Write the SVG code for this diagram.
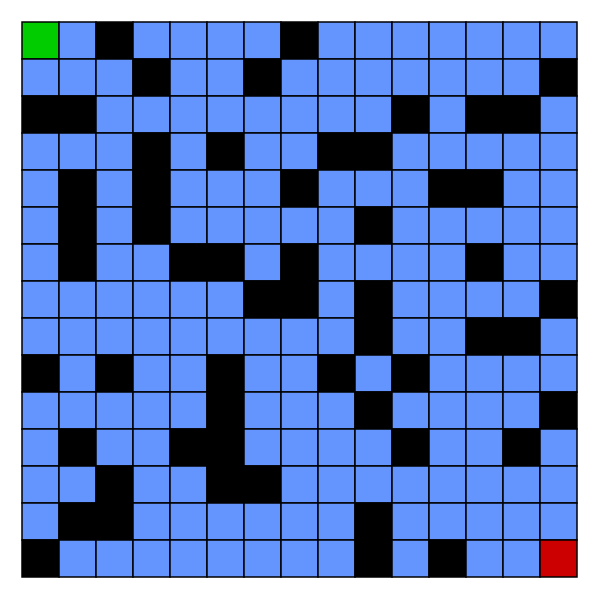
<svg xmlns="http://www.w3.org/2000/svg" width="600" height="600" viewBox="0 0 600 600">
<style>
rect{stroke:#000;stroke-width:1.5}
.o{fill:#6495FF}
.w{fill:#000}
.s{fill:#00CC00}
.e{fill:#CC0000}
</style>
<rect x="0" y="0" width="600" height="600" fill="#fff" style="stroke:none"/>
<g id="row0">
<rect class="s" x="22" y="22" width="37" height="37"/><rect class="o" x="59" y="22" width="37" height="37"/><rect class="w" x="96" y="22" width="37" height="37"/><rect class="o" x="133" y="22" width="37" height="37"/><rect class="o" x="170" y="22" width="37" height="37"/><rect class="o" x="207" y="22" width="37" height="37"/><rect class="o" x="244" y="22" width="37" height="37"/><rect class="w" x="281" y="22" width="37" height="37"/><rect class="o" x="318" y="22" width="37" height="37"/><rect class="o" x="355" y="22" width="37" height="37"/><rect class="o" x="392" y="22" width="37" height="37"/><rect class="o" x="429" y="22" width="37" height="37"/><rect class="o" x="466" y="22" width="37" height="37"/><rect class="o" x="503" y="22" width="37" height="37"/><rect class="o" x="540" y="22" width="37" height="37"/>
</g>
<g id="row1">
<rect class="o" x="22" y="59" width="37" height="37"/><rect class="o" x="59" y="59" width="37" height="37"/><rect class="o" x="96" y="59" width="37" height="37"/><rect class="w" x="133" y="59" width="37" height="37"/><rect class="o" x="170" y="59" width="37" height="37"/><rect class="o" x="207" y="59" width="37" height="37"/><rect class="w" x="244" y="59" width="37" height="37"/><rect class="o" x="281" y="59" width="37" height="37"/><rect class="o" x="318" y="59" width="37" height="37"/><rect class="o" x="355" y="59" width="37" height="37"/><rect class="o" x="392" y="59" width="37" height="37"/><rect class="o" x="429" y="59" width="37" height="37"/><rect class="o" x="466" y="59" width="37" height="37"/><rect class="o" x="503" y="59" width="37" height="37"/><rect class="w" x="540" y="59" width="37" height="37"/>
</g>
<g id="row2">
<rect class="w" x="22" y="96" width="37" height="37"/><rect class="w" x="59" y="96" width="37" height="37"/><rect class="o" x="96" y="96" width="37" height="37"/><rect class="o" x="133" y="96" width="37" height="37"/><rect class="o" x="170" y="96" width="37" height="37"/><rect class="o" x="207" y="96" width="37" height="37"/><rect class="o" x="244" y="96" width="37" height="37"/><rect class="o" x="281" y="96" width="37" height="37"/><rect class="o" x="318" y="96" width="37" height="37"/><rect class="o" x="355" y="96" width="37" height="37"/><rect class="w" x="392" y="96" width="37" height="37"/><rect class="o" x="429" y="96" width="37" height="37"/><rect class="w" x="466" y="96" width="37" height="37"/><rect class="w" x="503" y="96" width="37" height="37"/><rect class="o" x="540" y="96" width="37" height="37"/>
</g>
<g id="row3">
<rect class="o" x="22" y="133" width="37" height="37"/><rect class="o" x="59" y="133" width="37" height="37"/><rect class="o" x="96" y="133" width="37" height="37"/><rect class="w" x="133" y="133" width="37" height="37"/><rect class="o" x="170" y="133" width="37" height="37"/><rect class="w" x="207" y="133" width="37" height="37"/><rect class="o" x="244" y="133" width="37" height="37"/><rect class="o" x="281" y="133" width="37" height="37"/><rect class="w" x="318" y="133" width="37" height="37"/><rect class="w" x="355" y="133" width="37" height="37"/><rect class="o" x="392" y="133" width="37" height="37"/><rect class="o" x="429" y="133" width="37" height="37"/><rect class="o" x="466" y="133" width="37" height="37"/><rect class="o" x="503" y="133" width="37" height="37"/><rect class="o" x="540" y="133" width="37" height="37"/>
</g>
<g id="row4">
<rect class="o" x="22" y="170" width="37" height="37"/><rect class="w" x="59" y="170" width="37" height="37"/><rect class="o" x="96" y="170" width="37" height="37"/><rect class="w" x="133" y="170" width="37" height="37"/><rect class="o" x="170" y="170" width="37" height="37"/><rect class="o" x="207" y="170" width="37" height="37"/><rect class="o" x="244" y="170" width="37" height="37"/><rect class="w" x="281" y="170" width="37" height="37"/><rect class="o" x="318" y="170" width="37" height="37"/><rect class="o" x="355" y="170" width="37" height="37"/><rect class="o" x="392" y="170" width="37" height="37"/><rect class="w" x="429" y="170" width="37" height="37"/><rect class="w" x="466" y="170" width="37" height="37"/><rect class="o" x="503" y="170" width="37" height="37"/><rect class="o" x="540" y="170" width="37" height="37"/>
</g>
<g id="row5">
<rect class="o" x="22" y="207" width="37" height="37"/><rect class="w" x="59" y="207" width="37" height="37"/><rect class="o" x="96" y="207" width="37" height="37"/><rect class="w" x="133" y="207" width="37" height="37"/><rect class="o" x="170" y="207" width="37" height="37"/><rect class="o" x="207" y="207" width="37" height="37"/><rect class="o" x="244" y="207" width="37" height="37"/><rect class="o" x="281" y="207" width="37" height="37"/><rect class="o" x="318" y="207" width="37" height="37"/><rect class="w" x="355" y="207" width="37" height="37"/><rect class="o" x="392" y="207" width="37" height="37"/><rect class="o" x="429" y="207" width="37" height="37"/><rect class="o" x="466" y="207" width="37" height="37"/><rect class="o" x="503" y="207" width="37" height="37"/><rect class="o" x="540" y="207" width="37" height="37"/>
</g>
<g id="row6">
<rect class="o" x="22" y="244" width="37" height="37"/><rect class="w" x="59" y="244" width="37" height="37"/><rect class="o" x="96" y="244" width="37" height="37"/><rect class="o" x="133" y="244" width="37" height="37"/><rect class="w" x="170" y="244" width="37" height="37"/><rect class="w" x="207" y="244" width="37" height="37"/><rect class="o" x="244" y="244" width="37" height="37"/><rect class="w" x="281" y="244" width="37" height="37"/><rect class="o" x="318" y="244" width="37" height="37"/><rect class="o" x="355" y="244" width="37" height="37"/><rect class="o" x="392" y="244" width="37" height="37"/><rect class="o" x="429" y="244" width="37" height="37"/><rect class="w" x="466" y="244" width="37" height="37"/><rect class="o" x="503" y="244" width="37" height="37"/><rect class="o" x="540" y="244" width="37" height="37"/>
</g>
<g id="row7">
<rect class="o" x="22" y="281" width="37" height="37"/><rect class="o" x="59" y="281" width="37" height="37"/><rect class="o" x="96" y="281" width="37" height="37"/><rect class="o" x="133" y="281" width="37" height="37"/><rect class="o" x="170" y="281" width="37" height="37"/><rect class="o" x="207" y="281" width="37" height="37"/><rect class="w" x="244" y="281" width="37" height="37"/><rect class="w" x="281" y="281" width="37" height="37"/><rect class="o" x="318" y="281" width="37" height="37"/><rect class="w" x="355" y="281" width="37" height="37"/><rect class="o" x="392" y="281" width="37" height="37"/><rect class="o" x="429" y="281" width="37" height="37"/><rect class="o" x="466" y="281" width="37" height="37"/><rect class="o" x="503" y="281" width="37" height="37"/><rect class="w" x="540" y="281" width="37" height="37"/>
</g>
<g id="row8">
<rect class="o" x="22" y="318" width="37" height="37"/><rect class="o" x="59" y="318" width="37" height="37"/><rect class="o" x="96" y="318" width="37" height="37"/><rect class="o" x="133" y="318" width="37" height="37"/><rect class="o" x="170" y="318" width="37" height="37"/><rect class="o" x="207" y="318" width="37" height="37"/><rect class="o" x="244" y="318" width="37" height="37"/><rect class="o" x="281" y="318" width="37" height="37"/><rect class="o" x="318" y="318" width="37" height="37"/><rect class="w" x="355" y="318" width="37" height="37"/><rect class="o" x="392" y="318" width="37" height="37"/><rect class="o" x="429" y="318" width="37" height="37"/><rect class="w" x="466" y="318" width="37" height="37"/><rect class="w" x="503" y="318" width="37" height="37"/><rect class="o" x="540" y="318" width="37" height="37"/>
</g>
<g id="row9">
<rect class="w" x="22" y="355" width="37" height="37"/><rect class="o" x="59" y="355" width="37" height="37"/><rect class="w" x="96" y="355" width="37" height="37"/><rect class="o" x="133" y="355" width="37" height="37"/><rect class="o" x="170" y="355" width="37" height="37"/><rect class="w" x="207" y="355" width="37" height="37"/><rect class="o" x="244" y="355" width="37" height="37"/><rect class="o" x="281" y="355" width="37" height="37"/><rect class="w" x="318" y="355" width="37" height="37"/><rect class="o" x="355" y="355" width="37" height="37"/><rect class="w" x="392" y="355" width="37" height="37"/><rect class="o" x="429" y="355" width="37" height="37"/><rect class="o" x="466" y="355" width="37" height="37"/><rect class="o" x="503" y="355" width="37" height="37"/><rect class="o" x="540" y="355" width="37" height="37"/>
</g>
<g id="row10">
<rect class="o" x="22" y="392" width="37" height="37"/><rect class="o" x="59" y="392" width="37" height="37"/><rect class="o" x="96" y="392" width="37" height="37"/><rect class="o" x="133" y="392" width="37" height="37"/><rect class="o" x="170" y="392" width="37" height="37"/><rect class="w" x="207" y="392" width="37" height="37"/><rect class="o" x="244" y="392" width="37" height="37"/><rect class="o" x="281" y="392" width="37" height="37"/><rect class="o" x="318" y="392" width="37" height="37"/><rect class="w" x="355" y="392" width="37" height="37"/><rect class="o" x="392" y="392" width="37" height="37"/><rect class="o" x="429" y="392" width="37" height="37"/><rect class="o" x="466" y="392" width="37" height="37"/><rect class="o" x="503" y="392" width="37" height="37"/><rect class="w" x="540" y="392" width="37" height="37"/>
</g>
<g id="row11">
<rect class="o" x="22" y="429" width="37" height="37"/><rect class="w" x="59" y="429" width="37" height="37"/><rect class="o" x="96" y="429" width="37" height="37"/><rect class="o" x="133" y="429" width="37" height="37"/><rect class="w" x="170" y="429" width="37" height="37"/><rect class="w" x="207" y="429" width="37" height="37"/><rect class="o" x="244" y="429" width="37" height="37"/><rect class="o" x="281" y="429" width="37" height="37"/><rect class="o" x="318" y="429" width="37" height="37"/><rect class="o" x="355" y="429" width="37" height="37"/><rect class="w" x="392" y="429" width="37" height="37"/><rect class="o" x="429" y="429" width="37" height="37"/><rect class="o" x="466" y="429" width="37" height="37"/><rect class="w" x="503" y="429" width="37" height="37"/><rect class="o" x="540" y="429" width="37" height="37"/>
</g>
<g id="row12">
<rect class="o" x="22" y="466" width="37" height="37"/><rect class="o" x="59" y="466" width="37" height="37"/><rect class="w" x="96" y="466" width="37" height="37"/><rect class="o" x="133" y="466" width="37" height="37"/><rect class="o" x="170" y="466" width="37" height="37"/><rect class="w" x="207" y="466" width="37" height="37"/><rect class="w" x="244" y="466" width="37" height="37"/><rect class="o" x="281" y="466" width="37" height="37"/><rect class="o" x="318" y="466" width="37" height="37"/><rect class="o" x="355" y="466" width="37" height="37"/><rect class="o" x="392" y="466" width="37" height="37"/><rect class="o" x="429" y="466" width="37" height="37"/><rect class="o" x="466" y="466" width="37" height="37"/><rect class="o" x="503" y="466" width="37" height="37"/><rect class="o" x="540" y="466" width="37" height="37"/>
</g>
<g id="row13">
<rect class="o" x="22" y="503" width="37" height="37"/><rect class="w" x="59" y="503" width="37" height="37"/><rect class="w" x="96" y="503" width="37" height="37"/><rect class="o" x="133" y="503" width="37" height="37"/><rect class="o" x="170" y="503" width="37" height="37"/><rect class="o" x="207" y="503" width="37" height="37"/><rect class="o" x="244" y="503" width="37" height="37"/><rect class="o" x="281" y="503" width="37" height="37"/><rect class="o" x="318" y="503" width="37" height="37"/><rect class="w" x="355" y="503" width="37" height="37"/><rect class="o" x="392" y="503" width="37" height="37"/><rect class="o" x="429" y="503" width="37" height="37"/><rect class="o" x="466" y="503" width="37" height="37"/><rect class="o" x="503" y="503" width="37" height="37"/><rect class="o" x="540" y="503" width="37" height="37"/>
</g>
<g id="row14">
<rect class="w" x="22" y="540" width="37" height="37"/><rect class="o" x="59" y="540" width="37" height="37"/><rect class="o" x="96" y="540" width="37" height="37"/><rect class="o" x="133" y="540" width="37" height="37"/><rect class="o" x="170" y="540" width="37" height="37"/><rect class="o" x="207" y="540" width="37" height="37"/><rect class="o" x="244" y="540" width="37" height="37"/><rect class="o" x="281" y="540" width="37" height="37"/><rect class="o" x="318" y="540" width="37" height="37"/><rect class="w" x="355" y="540" width="37" height="37"/><rect class="o" x="392" y="540" width="37" height="37"/><rect class="w" x="429" y="540" width="37" height="37"/><rect class="o" x="466" y="540" width="37" height="37"/><rect class="o" x="503" y="540" width="37" height="37"/><rect class="e" x="540" y="540" width="37" height="37"/>
</g>
</svg>
